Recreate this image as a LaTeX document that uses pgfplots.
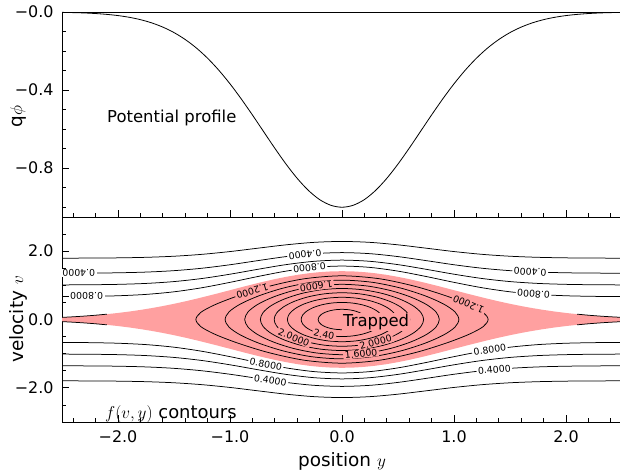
\documentclass[border=0pt]{standalone}
\usepackage{fontspec}
\setmainfont{DejaVu Sans}
\usepackage{pgfplots}
\usepackage{pgfplotstable}
\pgfplotsset{compat=1.18}
\definecolor{trap}{RGB}{255,160,160}

% passing-particle contours, upper (p) and lower (m) branches
\pgfplotstableread{
y     p2     p4     p6     p8     m2      m4      m6      m8
-2.5  1.7952 1.3551 1.0126 0.6708 -1.7952 -1.3551 -1.0126 -0.6708
-2.25 1.7976 1.3584 1.0170 0.6774 -1.7976 -1.3584 -1.0170 -0.6774
-2.0  1.8043 1.3672 1.0287 0.6948 -1.8043 -1.3672 -1.0287 -0.6948
-1.75 1.8200 1.3879 1.0560 0.7347 -1.8200 -1.3879 -1.0560 -0.7347
-1.5  1.8519 1.4295 1.1101 0.8106 -1.8519 -1.4295 -1.1101 -0.8106
-1.25 1.9074 1.5006 1.2003 0.9303 -1.9074 -1.5006 -1.2003 -0.9303
-1.0  1.9886 1.6026 1.3257 1.0872 -1.9886 -1.6026 -1.3257 -1.0872
-0.75 2.0877 1.7240 1.4701 1.2593 -2.0877 -1.7240 -1.4701 -1.2593
-0.5  2.1855 1.8412 1.6060 1.4156 -2.1855 -1.8412 -1.6060 -1.4156
-0.25 2.2578 1.9265 1.7030 1.5248 -2.2578 -1.9265 -1.7030 -1.5248
0.0   2.2845 1.9577 1.7383 1.5640 -2.2845 -1.9577 -1.7383 -1.5640
0.25  2.2578 1.9265 1.7030 1.5248 -2.2578 -1.9265 -1.7030 -1.5248
0.5   2.1855 1.8412 1.6060 1.4156 -2.1855 -1.8412 -1.6060 -1.4156
0.75  2.0877 1.7240 1.4701 1.2593 -2.0877 -1.7240 -1.4701 -1.2593
1.0   1.9886 1.6026 1.3257 1.0872 -1.9886 -1.6026 -1.3257 -1.0872
1.25  1.9074 1.5006 1.2003 0.9303 -1.9074 -1.5006 -1.2003 -0.9303
1.5   1.8519 1.4295 1.1101 0.8106 -1.8519 -1.4295 -1.1101 -0.8106
1.75  1.8200 1.3879 1.0560 0.7347 -1.8200 -1.3879 -1.0560 -0.7347
2.0   1.8043 1.3672 1.0287 0.6948 -1.8043 -1.3672 -1.0287 -0.6948
2.25  1.7976 1.3584 1.0170 0.6774 -1.7976 -1.3584 -1.0170 -0.6774
2.5   1.7952 1.3551 1.0126 0.6708 -1.7952 -1.3551 -1.0126 -0.6708
}\passing

\pgfplotstableread{
y    phi
-2.5 -0.0019
-2.4 -0.0032
-2.3 -0.0050
-2.2 -0.0079
-2.1 -0.0122
-2.0 -0.0183
-1.9 -0.0271
-1.8 -0.0392
-1.7 -0.0556
-1.6 -0.0773
-1.5 -0.1054
-1.4 -0.1409
-1.3 -0.1845
-1.2 -0.2369
-1.1 -0.2982
-1.0 -0.3679
-0.9 -0.4449
-0.8 -0.5273
-0.7 -0.6126
-0.6 -0.6977
-0.5 -0.7788
-0.4 -0.8521
-0.3 -0.9139
-0.2 -0.9608
-0.1 -0.9900
0.0  -1.0000
0.1  -0.9900
0.2  -0.9608
0.3  -0.9139
0.4  -0.8521
0.5  -0.7788
0.6  -0.6977
0.7  -0.6126
0.8  -0.5273
0.9  -0.4449
1.0  -0.3679
1.1  -0.2982
1.2  -0.2369
1.3  -0.1845
1.4  -0.1409
1.5  -0.1054
1.6  -0.0773
1.7  -0.0556
1.8  -0.0392
1.9  -0.0271
2.0  -0.0183
2.1  -0.0122
2.2  -0.0079
2.3  -0.0050
2.4  -0.0032
2.5  -0.0019
}\potential

\tikzset{
  lab/.style={font=\fontsize{9.4}{10}\selectfont, inner xsep=1.5bp, inner ysep=0.6bp, fill=white},
  labp/.style={lab, fill=trap},
}
\pgfplotsset{
  panel/.style={
    scale only axis, width=560bp, height=205bp,
    xmin=-2.5, xmax=2.5,
    axis line style={line width=0.9bp},
    tick style={black, line width=0.8bp},
    major tick length=7bp, minor tick length=4bp,
    xtick pos=bottom, ytick pos=left,
    xtick={-2,-1,0,1,2},
    minor xtick={-2.4,-2.2,-1.8,-1.6,-1.4,-1.2,-0.8,-0.6,-0.4,-0.2,0.2,0.4,0.6,0.8,1.2,1.4,1.6,1.8,2.2,2.4},
    ticklabel style={font=\fontsize{16}{18}\selectfont},
    xticklabel style={yshift=-5.5bp},
    yticklabel style={xshift=-5bp},
    label style={font=\fontsize{18.5}{21}\selectfont},
  },
  cl/.style={black, line width=0.75bp, smooth, no marks},
}

\begin{document}
\begin{tikzpicture}
\useasboundingbox (0,0) rectangle (620bp,471bp);

% top panel: potential
\begin{axis}[panel, at={(62bp,254bp)},
  ymin=-1.05, ymax=0,
  ytick={-0.8,-0.4,0}, yticklabels={−0.8,−0.4,−0.0},
  minor ytick={-1.0,-0.9,-0.7,-0.6,-0.5,-0.3,-0.2,-0.1},
  xticklabels={},
  ylabel={q$\phi$},
  ylabel style={at={(axis description cs:-0.0714,0.49)}, anchor=base},
]
\addplot[black, line width=0.8bp, smooth, no marks] table[x=y, y=phi] {\potential};
\node[anchor=base west, inner sep=0, font=\fontsize{16.5}{18}\selectfont]
  at (axis cs:-2.098,-0.5635) {Potential profile};
\end{axis}

% bottom panel: phase-space contours
\begin{axis}[panel, at={(62bp,49bp)},
  ymin=-3, ymax=3,
  ytick={-2,0,2}, yticklabels={−2.0,0.0,2.0},
  minor ytick={-2.5,-1.5,-1,-0.5,0.5,1,1.5,2.5},
  xticklabels={−2.0,−1.0,0.0,1.0,2.0},
  xlabel={position $y$},
  xlabel style={at={(axis description cs:0.5,-0.2195)}, anchor=base},
  ylabel={velocity $v$},
  ylabel style={at={(axis description cs:-0.0696,0.5)}, anchor=base},
]
% trapped region (inside separatrix)
\addplot[fill=trap, draw=none] coordinates {
(-2.5,0.0621)(-2.4,0.0794)(-2.3,0.1004)(-2.2,0.1257)(-2.1,0.1560)(-2.0,0.1914)
(-1.9,0.2326)(-1.8,0.2799)(-1.7,0.3333)(-1.6,0.3932)(-1.5,0.4592)(-1.4,0.5308)
(-1.3,0.6075)(-1.2,0.6885)(-1.1,0.7723)(-1.0,0.8578)(-0.9,0.9433)(-0.8,1.0269)
(-0.7,1.1069)(-0.6,1.1813)(-0.5,1.2480)(-0.4,1.3055)(-0.3,1.3520)(-0.2,1.3862)
(-0.1,1.4072)(0,1.4142)(0.1,1.4072)(0.2,1.3862)(0.3,1.3520)(0.4,1.3055)
(0.5,1.2480)(0.6,1.1813)(0.7,1.1069)(0.8,1.0269)(0.9,0.9433)(1.0,0.8578)
(1.1,0.7723)(1.2,0.6885)(1.3,0.6075)(1.4,0.5308)(1.5,0.4592)(1.6,0.3932)
(1.7,0.3333)(1.8,0.2799)(1.9,0.2326)(2.0,0.1914)(2.1,0.1560)(2.2,0.1257)
(2.3,0.1004)(2.4,0.0794)(2.5,0.0621)
(2.5,-0.0621)(2.4,-0.0794)(2.3,-0.1004)(2.2,-0.1257)(2.1,-0.1560)(2.0,-0.1914)
(1.9,-0.2326)(1.8,-0.2799)(1.7,-0.3333)(1.6,-0.3932)(1.5,-0.4592)(1.4,-0.5308)
(1.3,-0.6075)(1.2,-0.6885)(1.1,-0.7723)(1.0,-0.8578)(0.9,-0.9433)(0.8,-1.0269)
(0.7,-1.1069)(0.6,-1.1813)(0.5,-1.2480)(0.4,-1.3055)(0.3,-1.3520)(0.2,-1.3862)
(0.1,-1.4072)(0,-1.4142)(-0.1,-1.4072)(-0.2,-1.3862)(-0.3,-1.3520)(-0.4,-1.3055)
(-0.5,-1.2480)(-0.6,-1.1813)(-0.7,-1.1069)(-0.8,-1.0269)(-0.9,-0.9433)(-1.0,-0.8578)
(-1.1,-0.7723)(-1.2,-0.6885)(-1.3,-0.6075)(-1.4,-0.5308)(-1.5,-0.4592)(-1.6,-0.3932)
(-1.7,-0.3333)(-1.8,-0.2799)(-1.9,-0.2326)(-2.0,-0.1914)(-2.1,-0.1560)(-2.2,-0.1257)
(-2.3,-0.1004)(-2.4,-0.0794)(-2.5,-0.0621)
};
% separatrix stubs near the edges
\addplot[cl] coordinates {(-2.5,0.0621)(-2.4,0.0794)(-2.3,0.1004)(-2.2,0.1257)(-2.1,0.1560)};
\addplot[cl] coordinates {(-2.5,-0.0621)(-2.4,-0.0794)(-2.3,-0.1004)(-2.2,-0.1257)(-2.1,-0.1560)};
\addplot[cl] coordinates {(2.5,0.0621)(2.4,0.0794)(2.3,0.1004)(2.2,0.1257)(2.1,0.1560)};
\addplot[cl] coordinates {(2.5,-0.0621)(2.4,-0.0794)(2.3,-0.1004)(2.2,-0.1257)(2.1,-0.1560)};

% passing contours f = 0.2, 0.4, 0.6, 0.8
\addplot[cl] table[x=y, y=p2] {\passing};
\addplot[cl] table[x=y, y=p4] {\passing};
\addplot[cl] table[x=y, y=p6] {\passing};
\addplot[cl] table[x=y, y=p8] {\passing};
\addplot[cl] table[x=y, y=m2] {\passing};
\addplot[cl] table[x=y, y=m4] {\passing};
\addplot[cl] table[x=y, y=m6] {\passing};
\addplot[cl] table[x=y, y=m8] {\passing};

% trapped contours f = 1.2 ... 2.6
\addplot[cl, smooth cycle] coordinates {(1.3047,0)(1.2602,0.2098)(1.1299,0.4398)(0.9226,0.6996)(0.6524,0.9708)(0.3377,1.1916)(0,1.2788)(-0.3377,1.1916)(-0.6524,0.9708)(-0.9226,0.6996)(-1.1299,0.4398)(-1.2602,0.2098)(-1.3047,0)(-1.2602,-0.2098)(-1.1299,-0.4398)(-0.9226,-0.6996)(-0.6524,-0.9708)(-0.3377,-1.1916)(0,-1.2788)(0.3377,-1.1916)(0.6524,-0.9708)(0.9226,-0.6996)(1.1299,-0.4398)(1.2602,-0.2098)};
\addplot[cl, smooth cycle] coordinates {(1.0436,0)(1.0080,0.2258)(0.9038,0.4589)(0.7379,0.6980)(0.5218,0.9221)(0.2701,1.0891)(0,1.1520)(-0.2701,1.0891)(-0.5218,0.9221)(-0.7379,0.6980)(-0.9038,0.4589)(-1.0080,0.2258)(-1.0436,0)(-1.0080,-0.2258)(-0.9038,-0.4589)(-0.7379,-0.6980)(-0.5218,-0.9221)(-0.2701,-1.0891)(0,-1.1520)(0.2701,-1.0891)(0.5218,-0.9221)(0.7379,-0.6980)(0.9038,-0.4589)(1.0080,-0.2258)};
\addplot[cl, smooth cycle] coordinates {(0.8689,0)(0.8393,0.2209)(0.7525,0.4420)(0.6144,0.6567)(0.4345,0.8462)(0.2249,0.9805)(0,1.0296)(-0.2249,0.9805)(-0.4345,0.8462)(-0.6144,0.6567)(-0.7525,0.4420)(-0.8393,0.2209)(-0.8689,0)(-0.8393,-0.2209)(-0.7525,-0.4420)(-0.6144,-0.6567)(-0.4345,-0.8462)(-0.2249,-0.9805)(0,-1.0296)(0.2249,-0.9805)(0.4345,-0.8462)(0.6144,-0.6567)(0.7525,-0.4420)(0.8393,-0.2209)};
\addplot[cl, smooth cycle] coordinates {(0.7290,0)(0.7041,0.2064)(0.6313,0.4087)(0.5155,0.5982)(0.3645,0.7587)(0.1887,0.8686)(0,0.9080)(-0.1887,0.8686)(-0.3645,0.7587)(-0.5155,0.5982)(-0.6313,0.4087)(-0.7041,0.2064)(-0.7290,0)(-0.7041,-0.2064)(-0.6313,-0.4087)(-0.5155,-0.5982)(-0.3645,-0.7587)(-0.1887,-0.8686)(0,-0.9080)(0.1887,-0.8686)(0.3645,-0.7587)(0.5155,-0.5982)(0.6313,-0.4087)(0.7041,-0.2064)};
\addplot[cl, smooth cycle] coordinates {(0.6055,0)(0.5849,0.1855)(0.5244,0.3647)(0.4282,0.5280)(0.3028,0.6623)(0.1567,0.7518)(0,0.7835)(-0.1567,0.7518)(-0.3028,0.6623)(-0.4282,0.5280)(-0.5244,0.3647)(-0.5849,0.1855)(-0.6055,0)(-0.5849,-0.1855)(-0.5244,-0.3647)(-0.4282,-0.5280)(-0.3028,-0.6623)(-0.1567,-0.7518)(0,-0.7835)(0.1567,-0.7518)(0.3028,-0.6623)(0.4282,-0.5280)(0.5244,-0.3647)(0.5849,-0.1855)};
\addplot[cl, smooth cycle] coordinates {(0.4875,0)(0.4709,0.1594)(0.4222,0.3108)(0.3447,0.4461)(0.2438,0.5546)(0.1262,0.6256)(0,0.6504)(-0.1262,0.6256)(-0.2438,0.5546)(-0.3447,0.4461)(-0.4222,0.3108)(-0.4709,0.1594)(-0.4875,0)(-0.4709,-0.1594)(-0.4222,-0.3108)(-0.3447,-0.4461)(-0.2438,-0.5546)(-0.1262,-0.6256)(0,-0.6504)(0.1262,-0.6256)(0.2438,-0.5546)(0.3447,-0.4461)(0.4222,-0.3108)(0.4709,-0.1594)};
\addplot[cl, smooth cycle] coordinates {(0.3647,0)(0.3523,0.1249)(0.3158,0.2429)(0.2579,0.3470)(0.1824,0.4285)(0.0944,0.4808)(0,0.4990)(-0.0944,0.4808)(-0.1824,0.4285)(-0.2579,0.3470)(-0.3158,0.2429)(-0.3523,0.1249)(-0.3647,0)(-0.3523,-0.1249)(-0.3158,-0.2429)(-0.2579,-0.3470)(-0.1824,-0.4285)(-0.0944,-0.4808)(0,-0.4990)(0.0944,-0.4808)(0.1824,-0.4285)(0.2579,-0.3470)(0.3158,-0.2429)(0.3523,-0.1249)};
\addplot[cl, smooth cycle] coordinates {(0.2134,0)(0.2061,0.0767)(0.1848,0.1481)(0.1509,0.2098)(0.1067,0.2576)(0.0552,0.2879)(0,0.2983)(-0.0552,0.2879)(-0.1067,0.2576)(-0.1509,0.2098)(-0.1848,0.1481)(-0.2061,0.0767)(-0.2134,0)(-0.2061,-0.0767)(-0.1848,-0.1481)(-0.1509,-0.2098)(-0.1067,-0.2576)(-0.0552,-0.2879)(0,-0.2983)(0.0552,-0.2879)(0.1067,-0.2576)(0.1509,-0.2098)(0.1848,-0.1481)(0.2061,-0.0767)};

% contour labels
\node[lab, rotate=180]   at (axis cs:-2.35,1.3567)  {0.4000};
\node[lab, rotate=180]   at (axis cs:-2.28,0.6762)  {0.8000};
\node[lab, rotate=185.4] at (axis cs:-0.33,1.9043)  {0.4000};
\node[lab, rotate=186]   at (axis cs:-0.29,1.5116)  {0.8000};
\node[labp, rotate=187.8] at (axis cs:-0.23,0.9783) {1.6000};
\node[labp, rotate=197]  at (axis cs:-0.80,0.8307)  {1.2000};
\node[labp, rotate=156.4] at (axis cs:1.13,0.4395)  {1.2000};
\node[lab, rotate=175.7] at (axis cs:1.71,0.7441)   {0.8000};
\node[lab, rotate=177.5] at (axis cs:1.68,1.397)    {0.4000};
\node[labp, rotate=-22.5] at (axis cs:-0.43,-0.5255) {2.0000};
\node[labp, rotate=-12]  at (axis cs:-0.16,-0.4454) {2.40};
\node[labp, rotate=14]   at (axis cs:0.30,-0.6645)  {2.0000};
\node[labp, rotate=5.7]  at (axis cs:0.17,-1.0015)  {1.6000};
\node[lab, rotate=-11.3] at (axis cs:-0.68,-1.306)  {0.8000};
\node[lab, rotate=-8.3]  at (axis cs:-0.64,-1.7778) {0.4000};
\node[lab, rotate=9]     at (axis cs:1.32,-0.8924)  {0.8000};
\node[lab, rotate=5.1]   at (axis cs:1.36,-1.4653)  {0.4000};

\node[anchor=base west, inner sep=1bp, fill=trap, font=\fontsize{16.5}{18}\selectfont]
  at (axis cs:0.0,-0.21) {Trapped};
\node[anchor=base west, inner sep=0, font=\fontsize{18}{20}\selectfont]
  at (axis cs:-2.116,-2.883) {$f(v,y)$ contours};
\end{axis}
\end{tikzpicture}
\end{document}
